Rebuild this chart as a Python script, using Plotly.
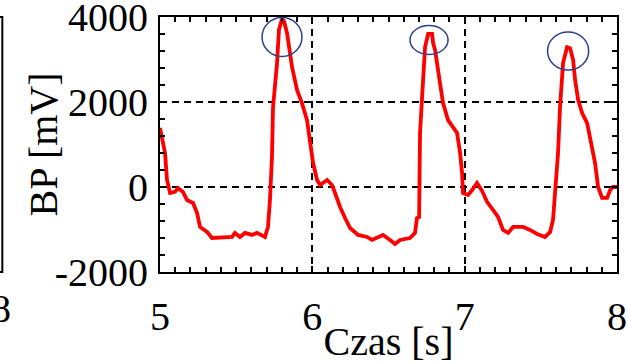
import plotly.graph_objects as go

# Data
time_s = [5.000, 5.013, 5.033, 5.046, 5.066, 5.098, 5.118, 5.151, 5.177, 5.217,
          5.243, 5.263, 5.309, 5.341, 5.473, 5.492, 5.525, 5.558, 5.604, 5.637,
          5.689, 5.709, 5.722, 5.735, 5.742, 5.768, 5.781, 5.801, 5.814, 5.834,
          5.867, 5.900, 5.932, 5.965, 5.985, 6.005, 6.031, 6.051, 6.097, 6.129,
          6.149, 6.182, 6.215, 6.248, 6.300, 6.359, 6.392, 6.431, 6.464, 6.510,
          6.543, 6.576, 6.641, 6.674, 6.687, 6.701, 6.707, 6.727, 6.740, 6.760,
          6.786, 6.793, 6.806, 6.838, 6.858, 6.891, 6.924, 6.950, 6.970, 6.983,
          6.989, 7.022, 7.049, 7.081, 7.114, 7.147, 7.186, 7.219, 7.252, 7.285,
          7.318, 7.383, 7.429, 7.475, 7.528, 7.561, 7.580, 7.594, 7.613, 7.626,
          7.646, 7.672, 7.692, 7.712, 7.725, 7.745, 7.771, 7.804, 7.823, 7.856,
          7.876, 7.902, 7.935, 7.955, 7.974, 8.000]
bp_mv = [1390, 1150, 800, 165, -140, -115, -25, -115, -305, -375,
         -610, -940, -1057, -1200, -1175, -1080, -1175, -1080, -1128, -1080,
         -1175, -940, -305, 705, 1880, 2900, 3700, 3960, 3900, 3620,
         2820, 2280, 1974, 1575, 1105, 564, 165, 47, 165, 47,
         -140, -470, -730, -965, -1128, -1175, -1245, -1175, -1128, -1245,
         -1340, -1245, -1200, -1080, -730, -705, 1270, 2515, 3290, 3600,
         3600, 3385, 3220, 2445, 1974, 1575, 1386, 1270, 800, 330,
         -140, -188, -70, 94, -90, -350, -540, -705, -1010, -1080,
         -940, -940, -1010, -1105, -1175, -1057, -775, -188, 800, 1880,
         2915, 3290, 3267, 2985, 2515, 2045, 1740, 1504, 1175, 564,
         0, -258, -258, -70, 0, 0]

# Peak markers (ellipses): centre time, centre value, half-width (s), half-height (mV)
peak_t = [5.801, 6.766, 7.679]
peak_v = [3530, 3459, 3200]
peak_rx = [0.131, 0.125, 0.135]
peak_ry = [459, 341, 447]

x_ticks = [5, 6, 7, 8]
y_ticks = [-2000, 0, 2000, 4000]

fig = go.Figure()
fig.add_trace(go.Scatter(x=time_s, y=bp_mv, mode="lines",
                         line=dict(color="#ff0000", width=3.8, shape="linear"),
                         showlegend=False, hoverinfo="skip"))

for t, v, rx, ry in zip(peak_t, peak_v, peak_rx, peak_ry):
    fig.add_shape(type="circle", xref="x", yref="y",
                  x0=t - rx, x1=t + rx, y0=v - ry, y1=v + ry,
                  line=dict(color="#2b3f8f", width=1.5))

# Edge of neighbouring panel at the far left
fig.add_shape(type="rect", xref="paper", yref="paper",
              x0=-0.5, x1=-0.345, y0=0, y1=1,
              line=dict(color="black", width=2), layer="above")
fig.add_annotation(text="8", xref="paper", yref="paper", x=-0.347, y=0,
                   xanchor="center", yanchor="top", yshift=-12, showarrow=False,
                   font=dict(family="Liberation Serif", size=40, color="black"))

font_ticks = dict(family="Liberation Serif", size=40, color="black")
font_title = dict(family="Liberation Serif", size=40, color="black")

# y-axis title as a rotated annotation
fig.add_annotation(text="BP [mV]", xref="paper", yref="paper", x=-0.256, y=0.5,
                   xanchor="center", yanchor="middle", textangle=-90, showarrow=False,
                   font=font_title)

fig.update_layout(
    width=627, height=364,
    margin=dict(l=160, r=10, t=17, b=92),
    paper_bgcolor="white", plot_bgcolor="white",
    xaxis=dict(range=[5, 8], tickvals=x_ticks, ticktext=[str(v) for v in x_ticks],
               tickfont=font_ticks, automargin=False, ticklabeloverflow="allow",
               title=dict(text="Czas [s]", font=font_title, standoff=2),
               showline=True, linecolor="black", linewidth=2, mirror="allticks",
               ticks="inside", ticklen=6, tickcolor="black", tickwidth=1.5,
               showgrid=True, gridcolor="black", gridwidth=1.5, griddash="7px,5px",
               zeroline=False, ticklabelstandoff=8,
               minor=dict(dtick=0.1, tick0=5, ticks="inside", ticklen=5,
                          tickcolor="black", tickwidth=1.5, showgrid=False)),
    yaxis=dict(range=[-2000, 4000], tickvals=y_ticks, ticktext=[str(v) for v in y_ticks],
               tickfont=font_ticks, automargin=False, ticklabeloverflow="allow",
               showline=True, linecolor="black", linewidth=2, mirror="allticks",
               ticks="inside", ticklen=6, tickcolor="black", tickwidth=1.5,
               showgrid=True, gridcolor="black", gridwidth=1.5, griddash="7px,5px",
               zeroline=False, ticklabelstandoff=2,
               minor=dict(dtick=400, tick0=0, ticks="inside", ticklen=5,
                          tickcolor="black", tickwidth=1.5, showgrid=False)),
)

fig.write_html("out.html")
